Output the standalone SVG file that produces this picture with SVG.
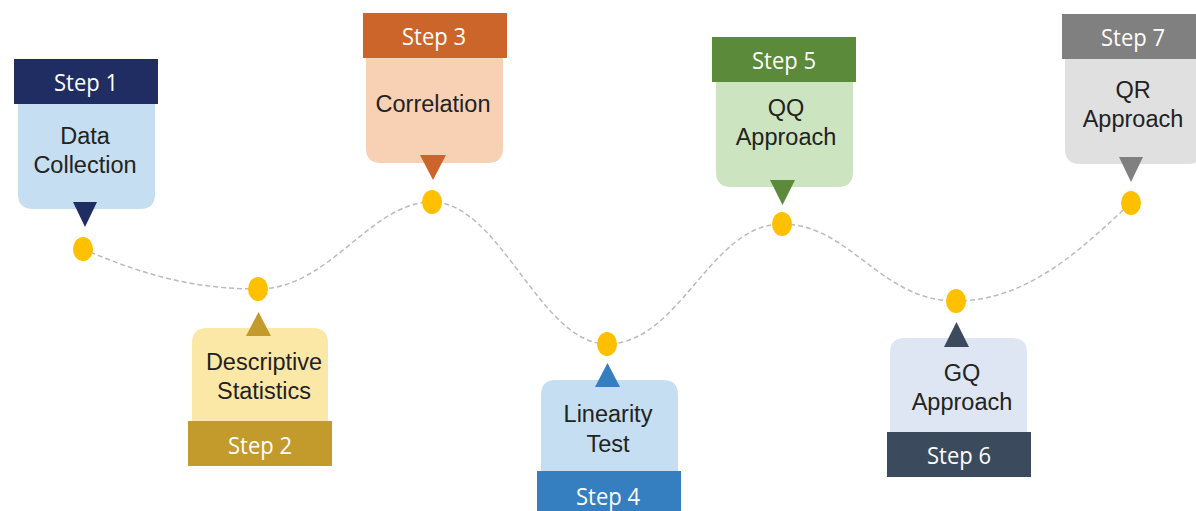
<svg xmlns="http://www.w3.org/2000/svg" width="1196" height="511" viewBox="0 0 1196 511">
<style>
.lbl{font-family:"Liberation Sans",Arial,sans-serif;font-size:23.5px;fill:#222;text-anchor:middle}
.stp{font-family:"Open Sans","Noto Sans",sans-serif;font-size:24px;fill:#fff;text-anchor:middle}
.dot{fill:#FFC000}
.curve{fill:none;stroke:#BBBBBB;stroke-width:1.5;stroke-dasharray:5,3}
</style>
<rect width="1196" height="511" fill="#fff"/>
<g id="connectors">
<path class="curve" d="M83,249 C150,278 200,289 258,289 C330,289 370,202 432,202 C500,202 540,344 607,344 C680,344 710,224 782,224 C850,224 880,301 956,301 C1030,301 1085,245 1131,203"/>
</g>
<g id="step1">
<path d="M18,104 H155 V194 Q155,209 140,209 H33 Q18,209 18,194 Z" fill="#C5DEF1"/>
<rect x="14" y="59" width="144" height="45" fill="#1F2D63"/>
<text class="stp" x="86" y="91" textLength="64" lengthAdjust="spacingAndGlyphs">Step 1</text>
<text class="lbl" x="85" y="144">Data</text>
<text class="lbl" x="85" y="173">Collection</text>
<polygon points="73,202 97,202 85,227" fill="#1F2D63"/>
<ellipse class="dot" cx="83" cy="249" rx="10" ry="12"/>
</g>
<g id="step2">
<path d="M192,421 V343 Q192,328 207,328 H313 Q328,328 328,343 V421 Z" fill="#FCE8A6"/>
<rect x="188" y="421" width="144" height="45" fill="#C39A2C"/>
<text class="stp" x="260" y="454" textLength="64" lengthAdjust="spacingAndGlyphs">Step 2</text>
<text class="lbl" x="264" y="370">Descriptive</text>
<text class="lbl" x="264" y="399">Statistics</text>
<polygon points="246,336 271,336 258.5,312" fill="#C39A2C"/>
<ellipse class="dot" cx="258" cy="289" rx="10" ry="12"/>
</g>
<g id="step3">
<path d="M366,58 H503 V148 Q503,163 488,163 H381 Q366,163 366,148 Z" fill="#F8D1B5"/>
<rect x="363" y="13" width="144" height="45" fill="#CC6529"/>
<text class="stp" x="434" y="45" textLength="64" lengthAdjust="spacingAndGlyphs">Step 3</text>
<text class="lbl" x="433" y="112">Correlation</text>
<polygon points="420,155 446,155 433,180" fill="#CC6529"/>
<ellipse class="dot" cx="432" cy="202" rx="10" ry="12"/>
</g>
<g id="step4">
<path d="M541,471 V395 Q541,380 556,380 H663 Q678,380 678,395 V471 Z" fill="#C5DEF1"/>
<rect x="537" y="471" width="144" height="45" fill="#357EBF"/>
<text class="stp" x="608" y="505" textLength="64" lengthAdjust="spacingAndGlyphs">Step 4</text>
<text class="lbl" x="608" y="422">Linearity</text>
<text class="lbl" x="608" y="452">Test</text>
<polygon points="595,387 620,387 607.5,363" fill="#357EBF"/>
<ellipse class="dot" cx="607" cy="344" rx="10" ry="12"/>
</g>
<g id="step5">
<path d="M716,82 H853 V172 Q853,187 838,187 H731 Q716,187 716,172 Z" fill="#CCE4C0"/>
<rect x="712" y="37" width="144" height="45" fill="#5A8A3A"/>
<text class="stp" x="784" y="69" textLength="64" lengthAdjust="spacingAndGlyphs">Step 5</text>
<text class="lbl" x="786" y="116">QQ</text>
<text class="lbl" x="786" y="145">Approach</text>
<polygon points="770,180 795,180 782.5,205" fill="#5A8A3A"/>
<ellipse class="dot" cx="782" cy="224" rx="10" ry="12"/>
</g>
<g id="step6">
<path d="M890,432 V353 Q890,338 905,338 H1012 Q1027,338 1027,353 V432 Z" fill="#DEE6F3"/>
<rect x="887" y="432" width="144" height="45" fill="#3B4A5C"/>
<text class="stp" x="959" y="464" textLength="64" lengthAdjust="spacingAndGlyphs">Step 6</text>
<text class="lbl" x="962" y="381">GQ</text>
<text class="lbl" x="962" y="410">Approach</text>
<polygon points="944,347 969,347 956.5,322" fill="#3B4A5C"/>
<ellipse class="dot" cx="956" cy="301" rx="10" ry="12"/>
</g>
<g id="step7">
<path d="M1065,59 H1203 V149 Q1203,164 1188,164 H1080 Q1065,164 1065,149 Z" fill="#E0E0E0"/>
<rect x="1062" y="14" width="144" height="45" fill="#808080"/>
<text class="stp" x="1133" y="46" textLength="64" lengthAdjust="spacingAndGlyphs">Step 7</text>
<text class="lbl" x="1133" y="98">QR</text>
<text class="lbl" x="1133" y="127">Approach</text>
<polygon points="1119,157 1143,157 1131,182" fill="#808080"/>
<ellipse class="dot" cx="1131" cy="203" rx="10" ry="12"/>
</g>
</svg>
